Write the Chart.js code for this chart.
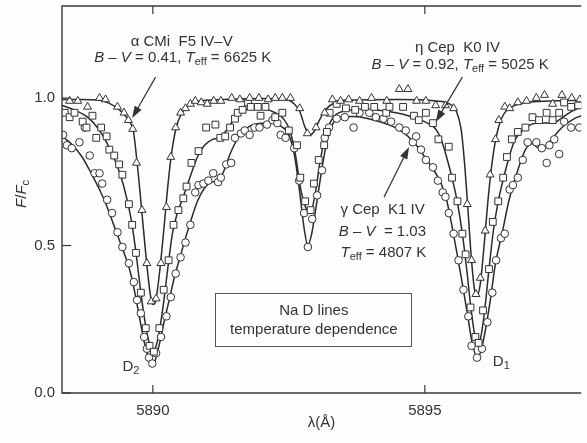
<!DOCTYPE html>
<html>
<head>
<meta charset="utf-8">
<script src="https://cdn.jsdelivr.net/npm/chart.js@4.4.1/dist/chart.umd.min.js"></script>
<style>
  html, body { margin: 0; padding: 0; background: #fdfdfb; }
</style>
</head>
<body>
<canvas id="myChart" width="587" height="443"></canvas>
<script>
// wavelength (Angstrom), normalised flux F/Fc
const alphaModel = [
  [5888.33, 0.995], [5888.7, 0.995], [5889.0, 0.993], [5889.2, 0.982], [5889.35, 0.965],
  [5889.47, 0.945], [5889.57, 0.92], [5889.64, 0.89], [5889.7, 0.80], [5889.77, 0.67],
  [5889.84, 0.53], [5889.91, 0.40], [5889.97, 0.315], [5890.01, 0.30], [5890.06, 0.32],
  [5890.13, 0.42], [5890.21, 0.57], [5890.28, 0.71], [5890.35, 0.82], [5890.43, 0.90],
  [5890.52, 0.945], [5890.65, 0.975], [5890.85, 0.99], [5891.3, 0.995], [5892.0, 0.998],
  [5892.45, 0.995], [5892.6, 0.98], [5892.7, 0.955], [5892.8, 0.90], [5892.88, 0.875],
  [5892.96, 0.885], [5893.05, 0.92], [5893.17, 0.96], [5893.35, 0.985], [5893.6, 0.993],
  [5894.5, 0.995], [5895.2, 0.99], [5895.45, 0.98], [5895.58, 0.955], [5895.67, 0.89],
  [5895.73, 0.78], [5895.79, 0.63], [5895.85, 0.47], [5895.91, 0.355], [5895.96, 0.33],
  [5896.02, 0.37], [5896.09, 0.50], [5896.17, 0.67], [5896.25, 0.80], [5896.34, 0.89],
  [5896.45, 0.945], [5896.6, 0.97], [5896.85, 0.985], [5897.3, 0.99], [5897.875, 0.992]
];
const alphaObs = [
  [5888.47, 0.99], [5888.62, 0.99], [5888.8, 0.97], [5889.02, 1.0], [5889.13, 0.995],
  [5889.35, 0.97], [5889.47, 0.95], [5889.55, 0.925], [5889.63, 0.895], [5889.7, 0.78],
  [5889.8, 0.62], [5889.89, 0.44], [5889.97, 0.31], [5890.06, 0.32], [5890.15, 0.44],
  [5890.25, 0.63], [5890.33, 0.80], [5890.42, 0.90], [5890.51, 0.95], [5890.6, 0.965],
  [5890.69, 0.98], [5890.78, 0.99], [5890.89, 0.985], [5891.0, 0.98], [5891.12, 0.99],
  [5891.25, 0.99], [5891.45, 1.0], [5891.6, 0.995], [5891.78, 1.0], [5891.95, 1.0],
  [5892.12, 0.995], [5892.25, 1.0], [5892.38, 1.0], [5892.53, 1.0], [5892.7, 0.965],
  [5892.84, 0.88], [5893.0, 0.90], [5893.16, 0.95], [5893.3, 0.995], [5893.45, 0.99],
  [5893.6, 0.995], [5893.8, 0.99], [5894.02, 1.0], [5894.3, 0.99], [5894.53, 1.03],
  [5894.69, 1.03], [5894.85, 0.99], [5895.02, 0.99], [5895.2, 0.975], [5895.38, 0.975],
  [5895.53, 0.965], [5895.78, 0.64], [5895.86, 0.45], [5895.94, 0.335], [5896.02, 0.39],
  [5896.11, 0.55], [5896.2, 0.74], [5896.3, 0.86], [5896.36, 0.925], [5896.47, 0.97],
  [5896.56, 0.965], [5896.71, 0.985], [5896.87, 0.99], [5897.05, 1.0], [5897.2, 1.01],
  [5897.35, 0.98], [5897.52, 1.01], [5897.7, 1.0], [5897.85, 0.995]
];

const etaModel = [
  [5888.33, 0.975], [5888.55, 0.96], [5888.8, 0.935], [5889.0, 0.895], [5889.15, 0.85],
  [5889.3, 0.79], [5889.42, 0.73], [5889.52, 0.66], [5889.6, 0.59], [5889.68, 0.49],
  [5889.76, 0.37], [5889.84, 0.26], [5889.92, 0.18], [5889.98, 0.145], [5890.04, 0.15],
  [5890.12, 0.21], [5890.2, 0.31], [5890.28, 0.43], [5890.36, 0.54], [5890.45, 0.61],
  [5890.55, 0.66], [5890.68, 0.73], [5890.82, 0.80], [5890.95, 0.84], [5891.1, 0.86],
  [5891.22, 0.865], [5891.35, 0.89], [5891.5, 0.93], [5891.65, 0.955], [5891.85, 0.965],
  [5892.05, 0.963], [5892.25, 0.95], [5892.4, 0.93], [5892.52, 0.89], [5892.62, 0.81],
  [5892.72, 0.69], [5892.82, 0.625], [5892.9, 0.615], [5892.98, 0.67], [5893.07, 0.78],
  [5893.17, 0.87], [5893.3, 0.93], [5893.5, 0.955], [5893.9, 0.962], [5894.3, 0.955],
  [5894.6, 0.945], [5894.85, 0.93], [5895.05, 0.915], [5895.2, 0.895], [5895.3, 0.86],
  [5895.4, 0.80], [5895.5, 0.73], [5895.6, 0.645], [5895.69, 0.54], [5895.77, 0.42],
  [5895.84, 0.30], [5895.91, 0.205], [5895.97, 0.165], [5896.03, 0.19], [5896.1, 0.28],
  [5896.18, 0.42], [5896.26, 0.55], [5896.35, 0.65], [5896.45, 0.73], [5896.55, 0.80],
  [5896.65, 0.855], [5896.8, 0.89], [5896.95, 0.91], [5897.15, 0.915], [5897.35, 0.915],
  [5897.5, 0.93], [5897.7, 0.955], [5897.875, 0.97]
];
const etaObs = [
  [5888.38, 0.95], [5888.47, 0.935], [5888.56, 0.95], [5888.71, 0.92], [5888.78, 0.90],
  [5888.89, 0.94], [5888.96, 0.865], [5889.05, 0.90], [5889.15, 0.87], [5889.2, 0.825],
  [5889.29, 0.805], [5889.38, 0.775], [5889.44, 0.74], [5889.56, 0.64], [5889.62, 0.57],
  [5889.69, 0.475], [5889.78, 0.34], [5889.87, 0.22], [5889.94, 0.16], [5890.02, 0.14],
  [5890.12, 0.22], [5890.2, 0.35], [5890.29, 0.45], [5890.38, 0.57], [5890.47, 0.62],
  [5890.56, 0.66], [5890.62, 0.70], [5890.71, 0.78], [5890.84, 0.82], [5890.98, 0.90],
  [5891.15, 0.91], [5891.24, 0.865], [5891.33, 0.87], [5891.42, 0.90], [5891.51, 0.93],
  [5891.56, 0.95], [5891.65, 0.96], [5891.75, 0.985], [5891.8, 0.97], [5891.93, 0.97],
  [5891.98, 0.94], [5892.07, 0.97], [5892.25, 0.935], [5892.38, 0.95], [5892.5, 0.89],
  [5892.65, 0.84], [5892.71, 0.73], [5892.8, 0.65], [5892.9, 0.62], [5892.96, 0.71],
  [5893.05, 0.79], [5893.15, 0.84], [5893.2, 0.885], [5893.25, 0.95], [5893.38, 0.98],
  [5893.55, 0.965], [5893.72, 0.96], [5893.9, 0.97], [5894.07, 0.97], [5894.29, 0.95],
  [5894.35, 0.97], [5894.6, 0.97], [5894.8, 0.94], [5894.89, 0.925], [5895.02, 0.95],
  [5895.15, 0.915], [5895.25, 0.86], [5895.44, 0.835], [5895.5, 0.73], [5895.6, 0.65],
  [5895.69, 0.54], [5895.75, 0.47], [5895.84, 0.29], [5895.93, 0.19], [5895.99, 0.17],
  [5896.07, 0.28], [5896.18, 0.42], [5896.25, 0.58], [5896.35, 0.65], [5896.44, 0.73],
  [5896.51, 0.80], [5896.6, 0.86], [5896.71, 0.885], [5896.85, 0.90], [5896.98, 0.935],
  [5897.1, 0.925], [5897.24, 0.95], [5897.35, 0.925], [5897.47, 0.95], [5897.56, 0.985],
  [5897.69, 0.97], [5897.82, 0.975]
];

const gammaModel = [
  [5888.33, 0.87], [5888.5, 0.845], [5888.7, 0.80], [5888.88, 0.74], [5889.02, 0.69],
  [5889.15, 0.635], [5889.28, 0.57], [5889.4, 0.51], [5889.5, 0.46], [5889.6, 0.40],
  [5889.68, 0.33], [5889.76, 0.25], [5889.84, 0.175], [5889.91, 0.125], [5889.97, 0.10],
  [5890.03, 0.105], [5890.1, 0.15], [5890.2, 0.235], [5890.3, 0.315], [5890.4, 0.395],
  [5890.5, 0.46], [5890.6, 0.525], [5890.7, 0.585], [5890.82, 0.65], [5890.95, 0.695],
  [5891.08, 0.715], [5891.2, 0.72], [5891.3, 0.75], [5891.42, 0.81], [5891.55, 0.86],
  [5891.7, 0.895], [5891.9, 0.912], [5892.15, 0.915], [5892.35, 0.905], [5892.5, 0.875],
  [5892.6, 0.81], [5892.7, 0.68], [5892.78, 0.56], [5892.85, 0.50], [5892.92, 0.54],
  [5893.0, 0.63], [5893.1, 0.75], [5893.2, 0.855], [5893.3, 0.91], [5893.45, 0.935],
  [5893.7, 0.937], [5894.0, 0.928], [5894.3, 0.912], [5894.55, 0.89], [5894.8, 0.85],
  [5895.0, 0.80], [5895.15, 0.76], [5895.3, 0.71], [5895.4, 0.655], [5895.5, 0.565],
  [5895.6, 0.465], [5895.7, 0.36], [5895.79, 0.26], [5895.87, 0.17], [5895.95, 0.125],
  [5896.02, 0.135], [5896.1, 0.20], [5896.2, 0.31], [5896.3, 0.44], [5896.42, 0.54],
  [5896.55, 0.655], [5896.7, 0.75], [5896.85, 0.825], [5896.97, 0.845], [5897.1, 0.83],
  [5897.2, 0.835], [5897.35, 0.865], [5897.55, 0.905], [5897.75, 0.93], [5897.875, 0.94]
];
const gammaObs = [
  [5888.35, 0.875], [5888.42, 0.84], [5888.51, 0.83], [5888.65, 0.85], [5888.75, 0.90],
  [5888.84, 0.805], [5888.93, 0.745], [5889.02, 0.745], [5889.07, 0.71], [5889.16, 0.655],
  [5889.25, 0.61], [5889.35, 0.545], [5889.44, 0.495], [5889.56, 0.44], [5889.65, 0.376],
  [5889.71, 0.315], [5889.78, 0.27], [5889.84, 0.19], [5889.89, 0.15], [5889.93, 0.12],
  [5889.99, 0.10], [5890.06, 0.135], [5890.15, 0.19], [5890.25, 0.26], [5890.33, 0.325],
  [5890.42, 0.405], [5890.51, 0.46], [5890.6, 0.51], [5890.69, 0.57], [5890.78, 0.68],
  [5890.84, 0.705], [5890.93, 0.71], [5891.02, 0.72], [5891.11, 0.745], [5891.2, 0.715],
  [5891.25, 0.73], [5891.35, 0.775], [5891.44, 0.78], [5891.51, 0.865], [5891.62, 0.88],
  [5891.69, 0.89], [5891.78, 0.875], [5891.87, 0.90], [5891.96, 0.90], [5892.1, 0.91],
  [5892.2, 0.925], [5892.29, 0.915], [5892.35, 0.875], [5892.44, 0.865], [5892.6, 0.83],
  [5892.69, 0.72], [5892.78, 0.61], [5892.85, 0.495], [5892.93, 0.59], [5893.02, 0.67],
  [5893.11, 0.755], [5893.16, 0.865], [5893.24, 0.90], [5893.38, 0.93], [5893.53, 0.935],
  [5893.69, 0.90], [5893.8, 0.95], [5893.98, 0.95], [5894.1, 0.935], [5894.24, 0.93],
  [5894.38, 0.92], [5894.53, 0.90], [5894.65, 0.89], [5894.78, 0.85], [5894.84, 0.87],
  [5894.93, 0.825], [5895.02, 0.79], [5895.15, 0.765], [5895.24, 0.72], [5895.33, 0.68],
  [5895.38, 0.665], [5895.44, 0.61], [5895.53, 0.54], [5895.62, 0.45], [5895.71, 0.35],
  [5895.8, 0.26], [5895.86, 0.16], [5895.96, 0.12], [5896.05, 0.15], [5896.15, 0.24],
  [5896.24, 0.34], [5896.31, 0.45], [5896.4, 0.525], [5896.47, 0.54], [5896.56, 0.69],
  [5896.62, 0.705], [5896.71, 0.73], [5896.8, 0.79], [5896.89, 0.85], [5897.05, 0.85],
  [5897.15, 0.83], [5897.24, 0.78], [5897.29, 0.84], [5897.38, 0.86], [5897.47, 0.81],
  [5897.56, 0.92], [5897.69, 0.90], [5897.84, 0.90]
];

const xLabelled = [5890, 5895];
const yLabelled = [0, 0.5, 1.0];

const ink = '#2b2b2b';
const FONT = '"Liberation Sans", Arial, sans-serif';

const pts = arr => arr.map(([x, y]) => ({ x, y }));

function lineSet(arr) {
  return {
    data: pts(arr), showLine: true, pointRadius: 0, borderColor: ink, borderWidth: 1.5,
    cubicInterpolationMode: 'monotone', fill: false, order: 2
  };
}
function markSet(arr, style, r) {
  return {
    data: pts(arr), showLine: false, pointStyle: style, pointRadius: r,
    pointBorderColor: '#333', pointBorderWidth: 1, pointBackgroundColor: '#fdfdfb', order: 1
  };
}

// text made of runs: '' normal, 'i' italic, 's' subscript
function drawRuns(ctx, x, y, parts, align) {
  const fontOf = s => s === 'i' ? 'italic 15px ' + FONT : s === 's' ? '11px ' + FONT : '15px ' + FONT;
  let w = 0;
  parts.forEach(([t, s]) => { ctx.font = fontOf(s); w += ctx.measureText(t).width; });
  let cx = align === 'center' ? x - w / 2 : x;
  ctx.textAlign = 'left';
  ctx.textBaseline = 'middle';
  parts.forEach(([t, s]) => {
    ctx.font = fontOf(s);
    ctx.fillText(t, cx, s === 's' ? y + 4 : y);
    cx += ctx.measureText(t).width;
  });
}

function arrow(ctx, x1, y1, x2, y2) {
  const a = Math.atan2(y2 - y1, x2 - x1);
  const L = 12, W = 4;
  ctx.beginPath();
  ctx.moveTo(x1, y1);
  ctx.lineTo(x2 - Math.cos(a) * L * 0.8, y2 - Math.sin(a) * L * 0.8);
  ctx.stroke();
  ctx.beginPath();
  ctx.moveTo(x2, y2);
  ctx.lineTo(x2 - Math.cos(a) * L - Math.sin(a) * W, y2 - Math.sin(a) * L + Math.cos(a) * W);
  ctx.lineTo(x2 - Math.cos(a) * L + Math.sin(a) * W, y2 - Math.sin(a) * L - Math.cos(a) * W);
  ctx.closePath();
  ctx.fill();
}

const BV = (v, t) => [['B', 'i'], [' \u2013 ', ''], ['V', 'i'], [' = ' + v + ', ', ''], ['T', 'i'], ['eff', 's'], [' = ' + t + ' K', '']];

// annotations in data units
const notes = [
  { x: 5890.53, y: 1.19, align: 'center', parts: [['\u03b1 CMi  F5 IV\u2013V', '']] },
  { x: 5890.55, y: 1.136, align: 'center', parts: BV('0.41', '6625') },
  { x: 5895.6, y: 1.17, align: 'center', parts: [['\u03b7 Cep  K0 IV', '']] },
  { x: 5895.65, y: 1.112, align: 'center', parts: BV('0.92', '5025') },
  { x: 5893.45, y: 0.62, align: 'left', parts: [['\u03b3 Cep  K1 IV', '']] },
  { x: 5893.42, y: 0.546, align: 'left', parts: [['B', 'i'], [' \u2013 ', ''], ['V', 'i'], ['  = 1.03', '']] },
  { x: 5893.45, y: 0.475, align: 'left', parts: [['T', 'i'], ['eff', 's'], [' = 4807 K', '']] },
  { x: 5892.96, y: 0.278, align: 'center', parts: [['Na D lines', '']] },
  { x: 5892.96, y: 0.214, align: 'center', parts: [['temperature dependence', '']] },
  { x: 5889.44, y: 0.088, align: 'left', parts: [['D', ''], ['2', 's']] },
  { x: 5896.25, y: 0.105, align: 'left', parts: [['D', ''], ['1', 's']] }
];
const arrows = [
  [5890.05, 1.071, 5889.62, 0.932],
  [5895.69, 1.071, 5895.2, 0.919],
  [5894.25, 0.664, 5894.71, 0.834]
];
const noteBox = [5891.15, 0.339, 5894.76, 0.159];

const inkPlugin = {
  id: 'ink',
  beforeDraw(chart) {
    const c = chart.ctx;
    c.save();
    c.fillStyle = '#fdfdfb';
    c.fillRect(0, 0, chart.width, chart.height);
    c.restore();
  },
  afterDraw(chart) {
    const { ctx, chartArea: a, scales: { x, y } } = chart;
    ctx.save();
    ctx.strokeStyle = '#3a3a3a';
    ctx.fillStyle = '#333';
    ctx.lineWidth = 1.4;
    ctx.beginPath();
    ctx.moveTo(a.right, a.top);
    ctx.lineTo(a.left, a.top);
    ctx.lineTo(a.left, a.bottom);
    ctx.lineTo(a.right, a.bottom);
    ctx.stroke();

    ctx.lineWidth = 1.2;
    x.ticks.forEach(t => {
      const px = x.getPixelForValue(t.value);
      const len = xLabelled.includes(Math.round(t.value)) ? 8 : 6;
      ctx.beginPath();
      ctx.moveTo(px, a.bottom); ctx.lineTo(px, a.bottom - len);
      ctx.moveTo(px, a.top); ctx.lineTo(px, a.top + len);
      ctx.stroke();
    });
    y.ticks.forEach(t => {
      const py = y.getPixelForValue(t.value);
      const major = yLabelled.some(v => Math.abs(v - t.value) < 1e-6);
      ctx.beginPath();
      ctx.moveTo(a.left, py); ctx.lineTo(a.left + (major ? 9 : 5), py);
      ctx.stroke();
    });

    // y title
    ctx.save();
    ctx.translate(22, y.getPixelForValue(0.675));
    ctx.rotate(-Math.PI / 2);
    drawRuns(ctx, 0, 0, [['F', 'i'], ['/', ''], ['F', 'i'], ['c', 's']], 'center');
    ctx.restore();

    ctx.lineWidth = 1.2;
    ctx.strokeStyle = '#333';
    arrows.forEach(([x1, y1, x2, y2]) => {
      arrow(ctx, x.getPixelForValue(x1), y.getPixelForValue(y1), x.getPixelForValue(x2), y.getPixelForValue(y2));
    });

    ctx.lineWidth = 1;
    ctx.strokeStyle = '#555';
    const bx1 = x.getPixelForValue(noteBox[0]), by1 = y.getPixelForValue(noteBox[1]);
    const bx2 = x.getPixelForValue(noteBox[2]), by2 = y.getPixelForValue(noteBox[3]);
    ctx.fillStyle = '#fdfdfb';
    ctx.fillRect(bx1, by1, bx2 - bx1, by2 - by1);
    ctx.strokeRect(Math.round(bx1) + 0.5, Math.round(by1) + 0.5, Math.round(bx2 - bx1), Math.round(by2 - by1));

    ctx.fillStyle = '#333';
    notes.forEach(n => drawRuns(ctx, x.getPixelForValue(n.x), y.getPixelForValue(n.y), n.parts, n.align));
    ctx.restore();
  }
};

const ctx = document.getElementById('myChart').getContext('2d');

const config = {
  type: 'scatter',
  data: {
    datasets: [
      markSet(alphaObs, 'triangle', 4.6),
      markSet(etaObs, 'rect', 4.8),
      markSet(gammaObs, 'circle', 3.8),
      lineSet(alphaModel),
      lineSet(etaModel),
      lineSet(gammaModel)
    ]
  },
  options: {
    responsive: false,
    animation: false,
    layout: { padding: { top: 6, right: 0, bottom: 0, left: 0 } },
    plugins: { legend: { display: false }, tooltip: { enabled: false } },
    scales: {
      x: {
        type: 'linear',
        min: 5888.33,
        max: 5897.875,
        grid: { display: false, drawTicks: false },
        border: { display: false },
        ticks: {
          stepSize: 1, includeBounds: false, autoSkip: false, maxRotation: 0, padding: 9,
          color: '#333', font: { family: FONT, size: 15 },
          callback: v => xLabelled.includes(Math.round(v)) ? String(Math.round(v)) : null
        },
        title: {
          display: true, text: '\u03bb(\u00c5)', color: '#333',
          font: { family: FONT, size: 15 }, padding: { top: 0, bottom: 11 }
        },
        afterFit: s => { s.height = 50; s.paddingLeft = 0; s.paddingRight = 0; }
      },
      y: {
        min: 0,
        max: 1.312,
        grid: { display: false, drawTicks: false },
        border: { display: false },
        ticks: {
          stepSize: 0.1, includeBounds: false, autoSkip: false, padding: 7,
          color: '#333', font: { family: FONT, size: 15 },
          callback: v => yLabelled.some(l => Math.abs(l - v) < 1e-6) ? v.toFixed(1) : null
        },
        afterFit: s => { s.width = 62; s.paddingTop = 0; s.paddingBottom = 0; }
      }
    }
  },
  plugins: [inkPlugin]
};

const myChart = new Chart(ctx, config);
</script>
</body>
</html>
